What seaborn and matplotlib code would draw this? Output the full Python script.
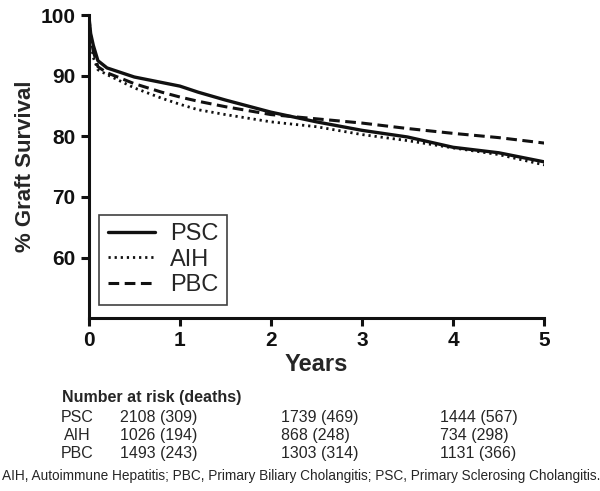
import numpy as np
import pandas as pd
import matplotlib
matplotlib.use('Agg')
import matplotlib.pyplot as plt
import seaborn as sns

# survival curves (years, % graft survival)
years = [0, 0.02, 0.05, 0.1, 0.2, 0.5, 0.8, 1.0, 1.2, 1.5, 2.0, 2.5, 3.0, 3.5, 4.0, 4.5, 5.0]
psc = [100, 97, 95, 92.5, 91.3, 89.8, 88.9, 88.3, 87.3, 86.0, 84.0, 82.4, 81.0, 79.9, 78.2, 77.3, 75.8]
aih = [100, 96, 93, 91.0, 90.2, 88.0, 86.3, 85.3, 84.4, 83.6, 82.4, 81.6, 80.3, 79.3, 78.1, 77.0, 75.3]
pbc = [100, 96.5, 94, 91.5, 90.5, 88.7, 87.3, 86.5, 85.8, 84.9, 83.6, 82.9, 82.2, 81.3, 80.5, 79.8, 78.9]

groups = ['PSC', 'AIH', 'PBC']
risk_psc = ['2108 (309)', '1739 (469)', '1444 (567)']
risk_aih = ['1026 (194)', '868 (248)', '734 (298)']
risk_pbc = ['1493 (243)', '1303 (314)', '1131 (366)']
footnote = 'AIH, Autoimmune Hepatitis; PBC, Primary Biliary Cholangitis; PSC, Primary Sclerosing Cholangitis.'

sns.set_style('ticks')
plt.rcParams['font.family'] = ['Liberation Sans', 'DejaVu Sans']

df = pd.DataFrame({
    'year': years * 3,
    'surv': psc + aih + pbc,
    'group': ['PSC'] * len(years) + ['AIH'] * len(years) + ['PBC'] * len(years),
})

fig = plt.figure(figsize=(6, 4.91), dpi=100)
ax = fig.add_axes([0.148, 0.352, 0.759, 0.617])

styles = {'PSC': '-', 'AIH': (0, (0.8, 1.4)), 'PBC': (0, (3.5, 1.8))}
widths = {'PSC': 2.4, 'AIH': 2.0, 'PBC': 2.2}
for g in groups:
    sns.lineplot(data=df[df['group'] == g], x='year', y='surv', ax=ax,
                 color='#111111', linestyle=styles[g], linewidth=widths[g], label=g)

ax.set_xlim(0, 5)
ax.set_ylim(50, 100)
ax.set_xticks([0, 1, 2, 3, 4, 5])
ax.set_yticks([60, 70, 80, 90, 100])
for s in ['top', 'right']:
    ax.spines[s].set_visible(False)
for s in ['left', 'bottom']:
    ax.spines[s].set_linewidth(2.2)
    ax.spines[s].set_color('#111111')
ax.tick_params(width=2.2, length=6, labelsize=15, colors='#111111')
for t in ax.get_xticklabels() + ax.get_yticklabels():
    t.set_fontweight('bold')
ax.set_xlabel('Years', fontsize=17, fontweight='bold', labelpad=2)
ax.set_ylabel('% Graft Survival', fontsize=16, fontweight='bold', labelpad=3)

leg = ax.legend(loc='lower left', bbox_to_anchor=(0.023, 0.045), fontsize=17,
                frameon=True, fancybox=False, handlelength=2.0, borderpad=0.35,
                labelspacing=0.15, handletextpad=0.65, borderaxespad=0)
leg.get_frame().set_edgecolor('#111111')
leg.get_frame().set_linewidth(1.2)

# number at risk table
fig.text(62 / 600, 1 - 402 / 491, 'Number at risk (deaths)', fontsize=11.5,
         fontweight='bold', va='baseline', ha='left')
col_x = [120 / 600, 281 / 600, 440 / 600]
row_y = [1 - 422 / 491, 1 - 440 / 491, 1 - 458 / 491]
for name, vals, yy in zip(groups, [risk_psc, risk_aih, risk_pbc], row_y):
    fig.text(77 / 600, yy, name, fontsize=11.5, va='baseline', ha='center')
    for v, xx in zip(vals, col_x):
        fig.text(xx, yy, v, fontsize=11.5, va='baseline', ha='left')
fig.text(0.003, 1 - 480 / 491, footnote, fontsize=9.8, va='baseline', ha='left')

plt.savefig('out.png', dpi=100)
plt.close()
